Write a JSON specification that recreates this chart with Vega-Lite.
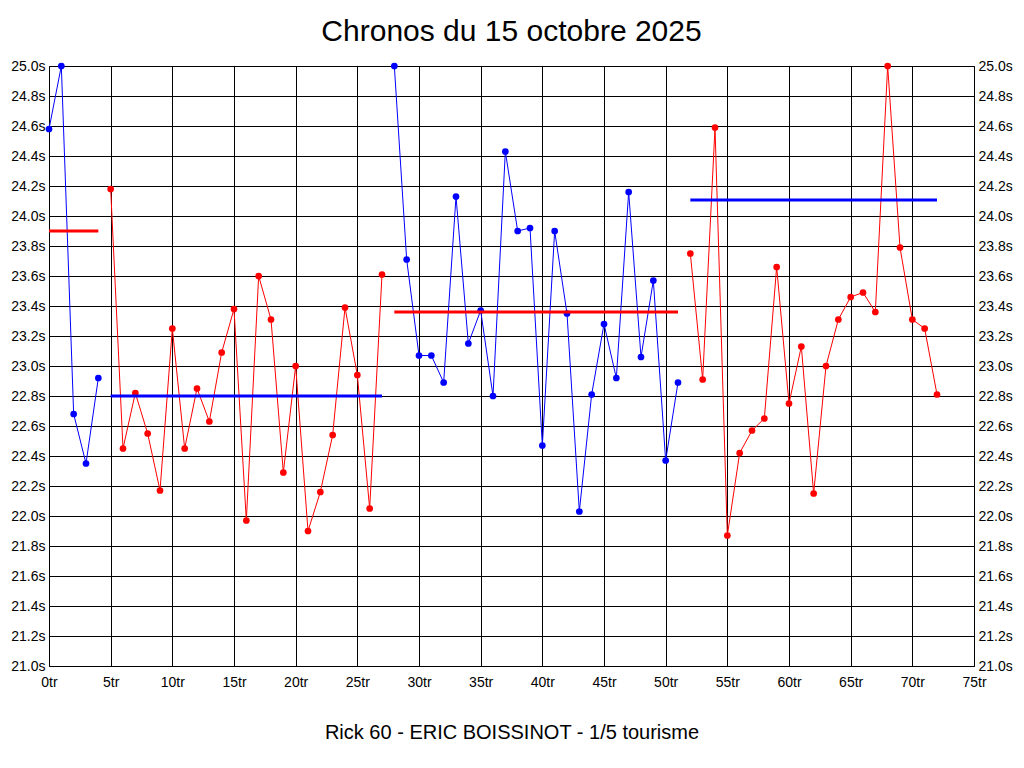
{
  "$schema": "https://vega.github.io/schema/vega-lite/v6.json",
  "description": "Chronos du 15 octobre 2025",
  "width": 925,
  "height": 600,
  "autosize": "none",
  "padding": {"left": 49, "top": 66, "right": 50, "bottom": 102},
  "background": "white",
  "title": {
    "text": "Chronos du 15 octobre 2025",
    "font": "Liberation Sans",
    "fontSize": 30,
    "fontWeight": "normal",
    "color": "black",
    "offset": 12
  },
  "config": {
    "font": "Liberation Sans",
    "view": {"stroke": "black", "strokeWidth": 1}
  },
  "datasets": {
    "tours": [
      {"tour": 0, "temps": 24.58, "serie": "A", "couleur": "bleu"},
      {"tour": 1, "temps": 25.0, "serie": "A", "couleur": "bleu"},
      {"tour": 2, "temps": 22.68, "serie": "A", "couleur": "bleu"},
      {"tour": 3, "temps": 22.35, "serie": "A", "couleur": "bleu"},
      {"tour": 4, "temps": 22.92, "serie": "A", "couleur": "bleu"},
      {"tour": 5, "temps": 24.18, "serie": "B", "couleur": "rouge"},
      {"tour": 6, "temps": 22.45, "serie": "B", "couleur": "rouge"},
      {"tour": 7, "temps": 22.82, "serie": "B", "couleur": "rouge"},
      {"tour": 8, "temps": 22.55, "serie": "B", "couleur": "rouge"},
      {"tour": 9, "temps": 22.17, "serie": "B", "couleur": "rouge"},
      {"tour": 10, "temps": 23.25, "serie": "B", "couleur": "rouge"},
      {"tour": 11, "temps": 22.45, "serie": "B", "couleur": "rouge"},
      {"tour": 12, "temps": 22.85, "serie": "B", "couleur": "rouge"},
      {"tour": 13, "temps": 22.63, "serie": "B", "couleur": "rouge"},
      {"tour": 14, "temps": 23.09, "serie": "B", "couleur": "rouge"},
      {"tour": 15, "temps": 23.38, "serie": "B", "couleur": "rouge"},
      {"tour": 16, "temps": 21.97, "serie": "B", "couleur": "rouge"},
      {"tour": 17, "temps": 23.6, "serie": "B", "couleur": "rouge"},
      {"tour": 18, "temps": 23.31, "serie": "B", "couleur": "rouge"},
      {"tour": 19, "temps": 22.29, "serie": "B", "couleur": "rouge"},
      {"tour": 20, "temps": 23.0, "serie": "B", "couleur": "rouge"},
      {"tour": 21, "temps": 21.9, "serie": "B", "couleur": "rouge"},
      {"tour": 22, "temps": 22.16, "serie": "B", "couleur": "rouge"},
      {"tour": 23, "temps": 22.54, "serie": "B", "couleur": "rouge"},
      {"tour": 24, "temps": 23.39, "serie": "B", "couleur": "rouge"},
      {"tour": 25, "temps": 22.94, "serie": "B", "couleur": "rouge"},
      {"tour": 26, "temps": 22.05, "serie": "B", "couleur": "rouge"},
      {"tour": 27, "temps": 23.61, "serie": "B", "couleur": "rouge"},
      {"tour": 28, "temps": 25.0, "serie": "C", "couleur": "bleu"},
      {"tour": 29, "temps": 23.71, "serie": "C", "couleur": "bleu"},
      {"tour": 30, "temps": 23.07, "serie": "C", "couleur": "bleu"},
      {"tour": 31, "temps": 23.07, "serie": "C", "couleur": "bleu"},
      {"tour": 32, "temps": 22.89, "serie": "C", "couleur": "bleu"},
      {"tour": 33, "temps": 24.13, "serie": "C", "couleur": "bleu"},
      {"tour": 34, "temps": 23.15, "serie": "C", "couleur": "bleu"},
      {"tour": 35, "temps": 23.37, "serie": "C", "couleur": "bleu"},
      {"tour": 36, "temps": 22.8, "serie": "C", "couleur": "bleu"},
      {"tour": 37, "temps": 24.43, "serie": "C", "couleur": "bleu"},
      {"tour": 38, "temps": 23.9, "serie": "C", "couleur": "bleu"},
      {"tour": 39, "temps": 23.92, "serie": "C", "couleur": "bleu"},
      {"tour": 40, "temps": 22.47, "serie": "C", "couleur": "bleu"},
      {"tour": 41, "temps": 23.9, "serie": "C", "couleur": "bleu"},
      {"tour": 42, "temps": 23.35, "serie": "C", "couleur": "bleu"},
      {"tour": 43, "temps": 22.03, "serie": "C", "couleur": "bleu"},
      {"tour": 44, "temps": 22.81, "serie": "C", "couleur": "bleu"},
      {"tour": 45, "temps": 23.28, "serie": "C", "couleur": "bleu"},
      {"tour": 46, "temps": 22.92, "serie": "C", "couleur": "bleu"},
      {"tour": 47, "temps": 24.16, "serie": "C", "couleur": "bleu"},
      {"tour": 48, "temps": 23.06, "serie": "C", "couleur": "bleu"},
      {"tour": 49, "temps": 23.57, "serie": "C", "couleur": "bleu"},
      {"tour": 50, "temps": 22.37, "serie": "C", "couleur": "bleu"},
      {"tour": 51, "temps": 22.89, "serie": "C", "couleur": "bleu"},
      {"tour": 52, "temps": 23.75, "serie": "D", "couleur": "rouge"},
      {"tour": 53, "temps": 22.91, "serie": "D", "couleur": "rouge"},
      {"tour": 54, "temps": 24.59, "serie": "D", "couleur": "rouge"},
      {"tour": 55, "temps": 21.87, "serie": "D", "couleur": "rouge"},
      {"tour": 56, "temps": 22.42, "serie": "D", "couleur": "rouge"},
      {"tour": 57, "temps": 22.57, "serie": "D", "couleur": "rouge"},
      {"tour": 58, "temps": 22.65, "serie": "D", "couleur": "rouge"},
      {"tour": 59, "temps": 23.66, "serie": "D", "couleur": "rouge"},
      {"tour": 60, "temps": 22.75, "serie": "D", "couleur": "rouge"},
      {"tour": 61, "temps": 23.13, "serie": "D", "couleur": "rouge"},
      {"tour": 62, "temps": 22.15, "serie": "D", "couleur": "rouge"},
      {"tour": 63, "temps": 23.0, "serie": "D", "couleur": "rouge"},
      {"tour": 64, "temps": 23.31, "serie": "D", "couleur": "rouge"},
      {"tour": 65, "temps": 23.46, "serie": "D", "couleur": "rouge"},
      {"tour": 66, "temps": 23.49, "serie": "D", "couleur": "rouge"},
      {"tour": 67, "temps": 23.36, "serie": "D", "couleur": "rouge"},
      {"tour": 68, "temps": 25.0, "serie": "D", "couleur": "rouge"},
      {"tour": 69, "temps": 23.79, "serie": "D", "couleur": "rouge"},
      {"tour": 70, "temps": 23.31, "serie": "D", "couleur": "rouge"},
      {"tour": 71, "temps": 23.25, "serie": "D", "couleur": "rouge"},
      {"tour": 72, "temps": 22.81, "serie": "D", "couleur": "rouge"}
    ],
    "moyennes": [
      {"debut": 0, "fin": 4, "moyenne": 23.9, "couleur": "rouge"},
      {"debut": 5, "fin": 27, "moyenne": 22.8, "couleur": "bleu"},
      {"debut": 28, "fin": 51, "moyenne": 23.36, "couleur": "rouge"},
      {"debut": 52, "fin": 72, "moyenne": 24.107, "couleur": "bleu"}
    ]
  },
  "layer": [
    {
      "data": {"name": "tours"},
      "mark": {"type": "line", "strokeWidth": 1, "clip": true},
      "encoding": {
        "x": {
          "field": "tour",
          "type": "quantitative",
          "scale": {"domain": [0, 75], "nice": false, "zero": false},
          "axis": {
            "title": "Rick 60 - ERIC BOISSINOT - 1/5 tourisme",
            "titleFont": "Liberation Sans",
            "titleFontSize": 20,
            "titleFontWeight": "normal",
            "titleColor": "black",
            "titlePadding": 33,
            "values": [0, 5, 10, 15, 20, 25, 30, 35, 40, 45, 50, 55, 60, 65, 70, 75],
            "labelExpr": "datum.value + 'tr'",
            "labelFontSize": 14,
            "labelColor": "black",
            "labelPadding": 9,
            "labelFlush": false,
            "ticks": false,
            "domain": false,
            "grid": true,
            "gridColor": "black",
            "gridOpacity": 1,
            "gridWidth": 1
          }
        },
        "y": {
          "field": "temps",
          "type": "quantitative",
          "scale": {"domain": [21, 25], "nice": false, "zero": false},
          "axis": {
            "orient": "left",
            "title": null,
            "values": [21, 21.2, 21.4, 21.6, 21.8, 22, 22.2, 22.4, 22.6, 22.8, 23, 23.2, 23.4, 23.6, 23.8, 24, 24.2, 24.4, 24.6, 24.8, 25],
            "labelExpr": "format(datum.value, '.1f') + 's'",
            "labelFontSize": 14,
            "labelColor": "black",
            "labelPadding": 4,
            "ticks": false,
            "domain": false,
            "grid": true,
            "gridColor": "black",
            "gridOpacity": 1,
            "gridWidth": 1
          }
        },
        "detail": {"field": "serie"},
        "color": {
          "field": "couleur",
          "type": "nominal",
          "scale": {"domain": ["bleu", "rouge"], "range": ["#0000ff", "#ff0000"]},
          "legend": null
        }
      }
    },
    {
      "data": {"name": "tours"},
      "mark": {"type": "point", "filled": true, "opacity": 1, "size": 45, "shape": "circle"},
      "encoding": {
        "x": {"field": "tour", "type": "quantitative"},
        "y": {
          "field": "temps",
          "type": "quantitative",
          "axis": {
            "orient": "right",
            "title": null,
            "values": [21, 21.2, 21.4, 21.6, 21.8, 22, 22.2, 22.4, 22.6, 22.8, 23, 23.2, 23.4, 23.6, 23.8, 24, 24.2, 24.4, 24.6, 24.8, 25],
            "labelExpr": "format(datum.value, '.1f') + 's'",
            "labelFontSize": 14,
            "labelColor": "black",
            "labelPadding": 4,
            "ticks": false,
            "domain": false,
            "grid": false
          }
        },
        "color": {"field": "couleur", "type": "nominal", "legend": null}
      }
    },
    {
      "data": {"name": "moyennes"},
      "mark": {"type": "rule", "strokeWidth": 3},
      "encoding": {
        "x": {"field": "debut", "type": "quantitative"},
        "x2": {"field": "fin"},
        "y": {"field": "moyenne", "type": "quantitative", "axis": null},
        "color": {"field": "couleur", "type": "nominal", "legend": null}
      }
    }
  ],
  "resolve": {"axis": {"y": "independent"}}
}
